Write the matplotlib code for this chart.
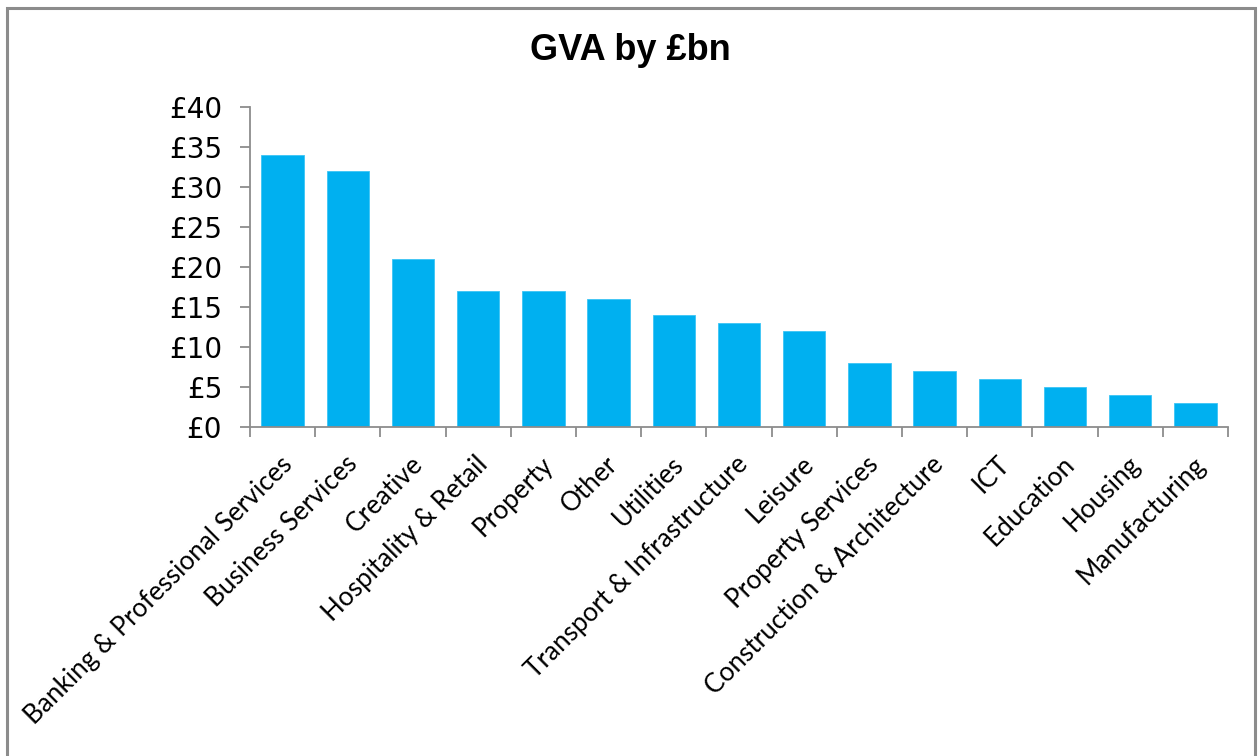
import matplotlib
matplotlib.use("Agg")
import matplotlib.pyplot as plt
from matplotlib.patches import Rectangle
from matplotlib.ticker import FixedLocator, FuncFormatter

categories = [
    "Banking & Professional Services", "Business Services", "Creative",
    "Hospitality & Retail", "Property", "Other", "Utilities",
    "Transport & Infrastructure", "Leisure", "Property Services",
    "Construction & Architecture", "ICT", "Education", "Housing",
    "Manufacturing",
]
gva_bn = [34, 32, 21, 17, 17, 16, 14, 13, 12, 8, 7, 6, 5, 4, 3]
y_ticks = [0, 5, 10, 15, 20, 25, 30, 35, 40]

W, H, DPI = 1259, 756, 100
fig = plt.figure(figsize=(W / DPI, H / DPI), dpi=DPI)
fig.patch.set_facecolor("white")

# outer chart border
fig.add_artist(Rectangle((7 / W, -0.05), (1255 - 7) / W, 1.05 - 8 / H,
                         transform=fig.transFigure, fill=False,
                         edgecolor="#8c8c8c", linewidth=2.2))

left, right, top, bottom = 250, 1228, 107, 427
ax = fig.add_axes([left / W, 1 - bottom / H, (right - left) / W, (bottom - top) / H])

x = list(range(len(categories)))
ax.bar(x, gva_bn, width=0.65, color="#00B0F0", edgecolor="#3cc4f5", linewidth=0.6, zorder=2)

ax.set_xlim(-0.5, len(categories) - 0.5)
ax.set_ylim(0, 40)

for s in ("top", "right"):
    ax.spines[s].set_visible(False)
for s in ("left", "bottom"):
    ax.spines[s].set_color("#8c8c8c")
    ax.spines[s].set_linewidth(1.3)

ax.yaxis.set_major_locator(FixedLocator(y_ticks))
ax.yaxis.set_major_formatter(FuncFormatter(lambda v, p: f"£{int(v)}"))
ax.tick_params(axis="y", direction="out", length=7, width=1.3, color="#8c8c8c",
               labelsize=20, pad=13)
for lbl in ax.get_yticklabels():
    lbl.set_fontfamily("DejaVu Sans")

# category boundaries carry the tick marks; labels sit under bar centres
ax.set_xticks([i - 0.5 for i in range(len(categories) + 1)])
ax.set_xticklabels([])
ax.tick_params(axis="x", direction="out", length=7, width=1.3, color="#8c8c8c")
for i, name in enumerate(categories):
    ax.annotate(name, xy=(i, 0), xycoords=("data", "axes fraction"),
                xytext=(4, -24), textcoords="offset points",
                rotation=45, ha="right", va="center", rotation_mode="anchor",
                fontsize=18.8, family="Lato", color="black")

fig.text(630 / W, 1 - 51 / H, "GVA by £bn", ha="center", va="center",
         fontsize=26, fontweight="bold", family="Liberation Sans")

fig.savefig("out.png", dpi=DPI)
